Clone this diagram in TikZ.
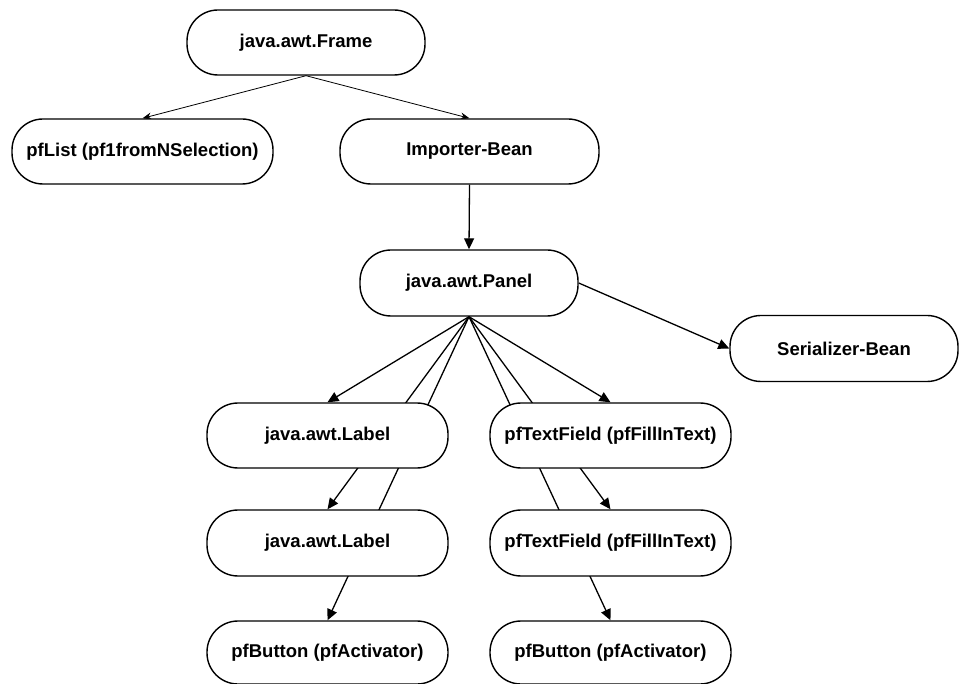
\documentclass[tikz,border=0pt]{standalone}
\usepackage{fontspec}
\setmainfont{Liberation Sans}
\usetikzlibrary{arrows.meta,backgrounds}
\begin{document}
\begin{tikzpicture}[x=1pt,y=-1pt,
  cls/.style={draw, line width=1.4pt, fill=white, rounded corners=31pt,
    minimum height=65pt, inner sep=0pt,
    font=\fontsize{18.5}{20}\selectfont\bfseries},
  link/.style={line width=1.3pt, -{Triangle[length=11pt,width=10pt]}},
  thinlink/.style={line width=0.8pt, -{Stealth[length=9pt,width=7pt]}}]
\useasboundingbox (0,0) rectangle (959,684);

% class boxes
\node[cls, minimum width=238pt] (frame)    at (306,42.5)  {java.awt.Frame};
\node[cls, minimum width=261pt] (pflist)   at (142.5,151.5) {pfList (pf1fromNSelection)};
\node[cls, minimum width=259pt] (importer) at (469.5,151.5) {Importer-Bean};
\node[cls, minimum width=218pt, minimum height=66pt] (panel) at (469,283) {java.awt.Panel};
\node[cls, minimum width=228pt, minimum height=66pt] (serial) at (844,348.5) {Serializer-Bean};
\node[cls, minimum width=241pt] (label1) at (327.5,435.5) {java.awt.Label};
\node[cls, minimum width=241pt] (tf1)    at (610.5,435.5) {pfTextField (pfFillInText)};
\node[cls, minimum width=241pt, minimum height=66pt] (label2) at (327.5,543) {java.awt.Label};
\node[cls, minimum width=241pt, minimum height=66pt] (tf2)    at (610.5,543) {pfTextField (pfFillInText)};
\node[cls, minimum width=241pt, minimum height=63pt] (btn1) at (327.5,652.5) {pfButton (pfActivator)};
\node[cls, minimum width=241pt, minimum height=63pt] (btn2) at (610.5,652.5) {pfButton (pfActivator)};

% containment links, drawn beneath the boxes
\begin{scope}[on background layer]
  \draw[thinlink] (frame.south) -- (pflist.north);
  \draw[thinlink] (frame.south) -- (importer.north);
  \draw[link] (importer.south) -- (panel.north);
  \draw[link] (panel.east) -- (serial.west);
  \draw[link] (panel.south) -- (label1.north);
  \draw[link] (panel.south) -- (label2.north);
  \draw[link] (panel.south) -- (btn1.north);
  \draw[link] (panel.south) -- (tf1.north);
  \draw[link] (panel.south) -- (tf2.north);
  \draw[link] (panel.south) -- (btn2.north);
\end{scope}
\end{tikzpicture}
\end{document}
